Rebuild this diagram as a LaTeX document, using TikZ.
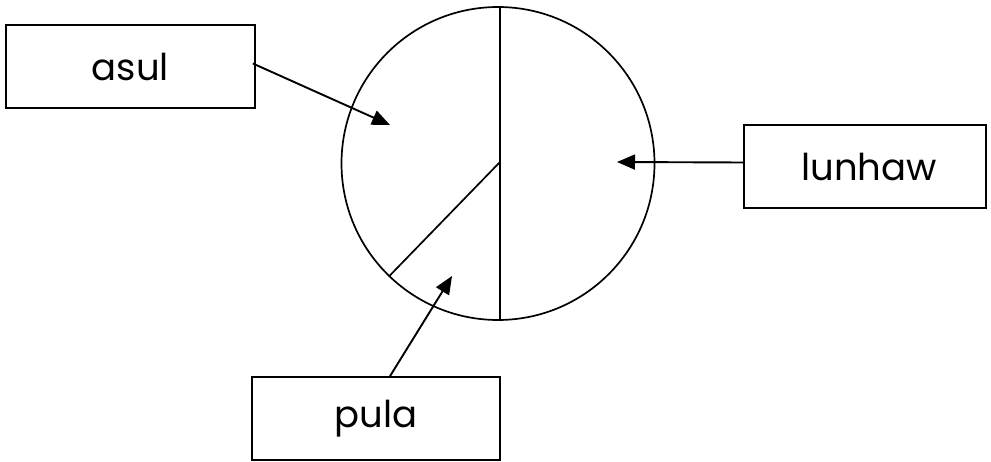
\documentclass[tikz,border=0pt]{standalone}
\usepackage{fontspec}
\setmainfont{Poppins}
\usetikzlibrary{arrows.meta}
\begin{document}
\begin{tikzpicture}[x=1pt,y=-1pt,
  lbl/.style={draw=black,line width=1.7pt,minimum width=#1,minimum height=83pt,inner sep=0pt,font=\fontsize{37}{42}\selectfont},
  arr/.style={line width=1.9pt,-{Triangle[length=18pt,width=15pt]}},
  ln/.style={line width=1.7pt}]
\useasboundingbox (0,0) rectangle (991,462);
\node[draw=black,line width=1.7pt,circle,minimum size=313pt,inner sep=0pt] (c) at (498,163.5) {};
\coordinate (vt) at (500,7);
\coordinate (vb) at (500,320);
\coordinate (mid) at (500,162);
\draw[ln] (vt) -- (vb);
\draw[ln] (mid) -- (c.226);
\node[lbl=249pt] (asul) at (130.5,66.5) {asul};
\node[lbl=242pt] (lunhaw) at (865,166.5) {\hspace*{8pt}lunhaw};
\node[lbl=248pt] (pula) at (376,418.5) {pula};
\coordinate (ta) at (390,125);
\coordinate (tl) at (617,162);
\coordinate (tp) at (452,276);
\draw[arr] ([xshift=-3pt,yshift=3pt]asul.east) -- (ta);
\draw[arr] ([yshift=4pt]lunhaw.west) -- (tl);
\draw[arr] ([xshift=14pt]pula.north) -- (tp);
\end{tikzpicture}
\end{document}
